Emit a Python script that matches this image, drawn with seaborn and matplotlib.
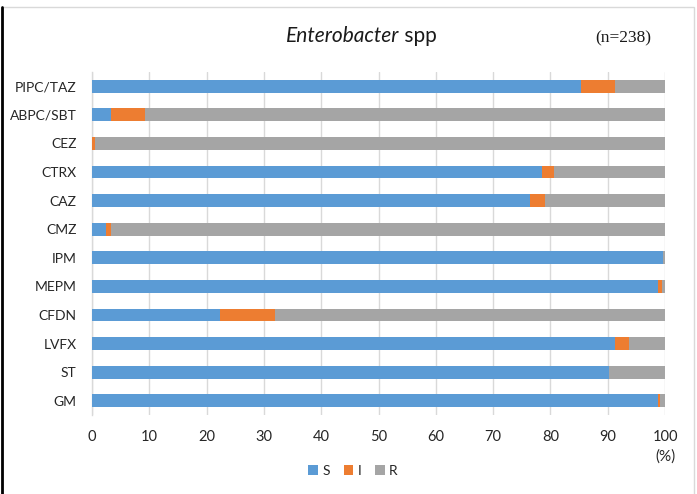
import matplotlib
matplotlib.use("Agg")
import matplotlib.pyplot as plt
from matplotlib.patches import Patch, Rectangle
from matplotlib.lines import Line2D
import pandas as pd
import seaborn as sns

# data (% of isolates, n=238)
drugs = ["PIPC/TAZ", "ABPC/SBT", "CEZ", "CTRX", "CAZ", "CMZ",
         "IPM", "MEPM", "CFDN", "LVFX", "ST", "GM"]
s_pct = [85.3, 3.4, 0.0, 78.6, 76.5, 2.5, 99.6, 98.7, 22.3, 91.2, 90.3, 98.7]
i_pct = [5.9, 5.9, 0.5, 2.1, 2.5, 0.8, 0.0, 0.8, 9.7, 2.5, 0.0, 0.4]
r_pct = [8.8, 90.7, 99.5, 19.3, 21.0, 96.7, 0.4, 0.5, 68.0, 6.3, 9.7, 0.9]
xticks = list(range(0, 101, 10))

df = pd.DataFrame({"drug": drugs, "S": s_pct, "I": i_pct, "R": r_pct})
df["SI"] = df["S"] + df["I"]
df["SIR"] = df["SI"] + df["R"]

colors = {"S": "#5B9BD5", "I": "#ED7D31", "R": "#A5A5A5"}

sns.set_style("white")
plt.rcParams["font.family"] = ["Lato", "DejaVu Sans"]

fig = plt.figure(figsize=(6.97, 4.94), dpi=100)
ax = fig.add_axes([92 / 697, 1 - 415 / 494, 573 / 697, 343 / 494])

# stacked bars drawn as layered cumulative totals
for col, c in [("SIR", colors["R"]), ("SI", colors["I"]), ("S", colors["S"])]:
    sns.barplot(data=df, x=col, y="drug", orient="h", color=c, width=0.45,
                saturation=1, linewidth=0, ax=ax, order=drugs)

ax.set_xlim(0, 100)
ax.set_ylim(11.5, -0.5)
ax.set_xticks(xticks)
ax.set_xlabel("")
ax.set_ylabel("")
ax.grid(axis="x", color="#D9D9D9", linewidth=1)
ax.set_axisbelow(True)
for side in ["top", "right", "bottom"]:
    ax.spines[side].set_visible(False)
ax.spines["left"].set_color("#D9D9D9")
ax.spines["left"].set_linewidth(1)
ax.spines["left"].set_zorder(0.5)
ax.tick_params(axis="x", length=0, pad=11, labelsize=10.5, labelcolor="#262626")
ax.tick_params(axis="y", length=0, pad=11, labelsize=10, labelcolor="#262626")

# title, sample size, unit
fig.text(399 / 697, 1 - 36 / 494, "Enterobacter", fontsize=15, style="italic",
         ha="right", va="center", color="#1a1a1a")
fig.text(399 / 697, 1 - 36 / 494, " spp", fontsize=15,
         ha="left", va="center", color="#1a1a1a")
fig.text(623 / 697, 1 - 38 / 494, "(n=238)", fontsize=12.5,
         family="Liberation Serif", ha="center", va="center", color="#1a1a1a")
fig.text(665 / 697, 1 - 457 / 494, "(%)", fontsize=11,
         ha="center", va="center", color="#262626")

# legend
handles = [Patch(facecolor=colors[k], edgecolor="none", label=k) for k in ["S", "I", "R"]]
fig.legend(handles=handles, loc="center", bbox_to_anchor=(353 / 697, 1 - 471 / 494),
           ncol=3, frameon=False, fontsize=10, handlelength=0.7, handleheight=0.7,
           handletextpad=0.3, columnspacing=1.0, labelcolor="#262626")

# chart border
fig.patches.append(Rectangle((2 / 697, -0.01), 692 / 697, 1 - 7 / 494 + 0.01,
                             transform=fig.transFigure, fill=False,
                             edgecolor="#D9D9D9", linewidth=1))
fig.lines.append(Line2D([2 / 697, 2 / 697], [0, 1 - 7 / 494],
                        transform=fig.transFigure, color="black", linewidth=2))

fig.savefig("out.png", dpi=100, facecolor="white")
